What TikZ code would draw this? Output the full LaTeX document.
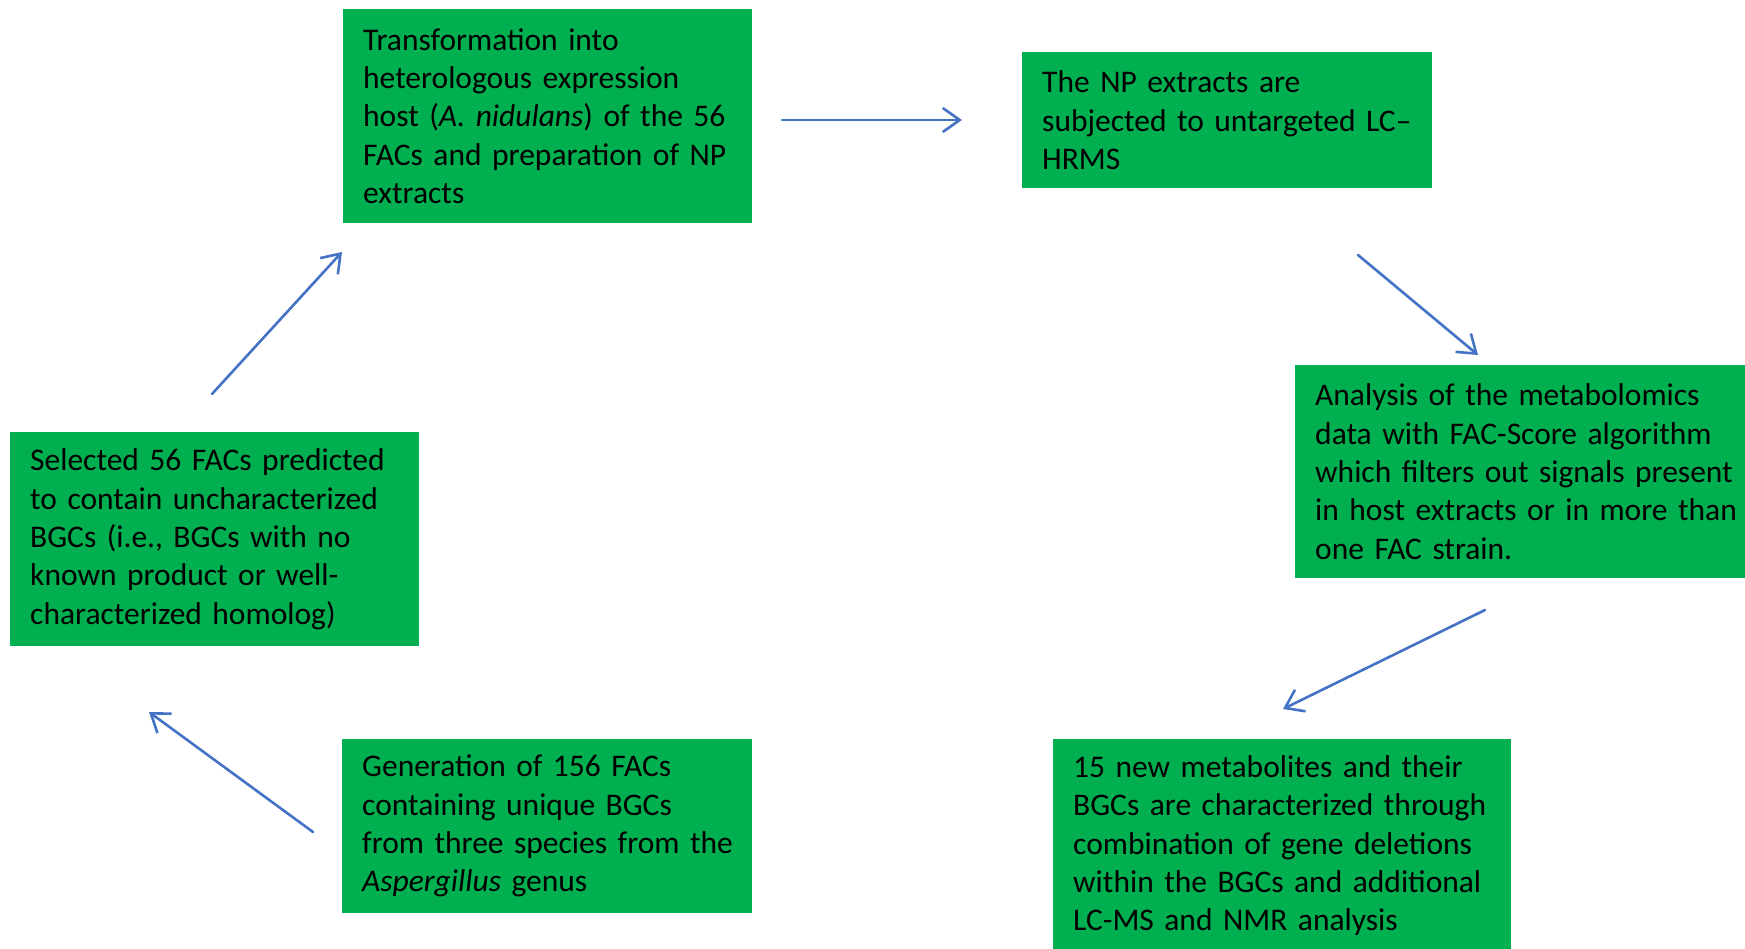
\documentclass[tikz,border=0pt]{standalone}
\usepackage{fontspec}
\setmainfont{Carlito}
\usepackage{tikz}
\usetikzlibrary{arrows.meta}
\definecolor{boxgreen}{RGB}{0,176,80}
\definecolor{arrowblue}{RGB}{68,114,196}

\begin{document}
\begin{tikzpicture}[x=1pt, y=-1pt,
    step box/.style={fill=boxgreen, anchor=north west, align=left,
        inner xsep=20pt, inner ysep=0pt, font=\fontsize{31.5}{38.4}\selectfont,
        execute at begin node={\rightskip=0pt plus 1fil minus 30pt\relax}},
    flow arrow/.style={arrowblue, line width=2.6pt, line cap=round,
        -{Straight Barb[length=17pt, width=24pt, line width=2.6pt]}},
    ]
\useasboundingbox (0,0) rectangle (1745,949);

%% draw boxes
\node[step box, minimum width=409pt, minimum height=214pt, text width=369pt] (transf) at (343,9)
    {Transformation into\\ heterologous expression\\ host (\textit{A. nidulans}) of the 56\\ FACs and preparation of NP\\ extracts};
\node[step box, minimum width=410pt, minimum height=136pt, text width=370pt] (lchrms) at (1022,52)
    {The NP extracts are\\ subjected to untargeted LC--\\ HRMS};
\node[step box, minimum width=470pt, minimum height=213pt, text width=430pt] (score) at (1295,365)
    {Analysis of the metabolomics\\ data with FAC-Score algorithm\\ which filters out signals present\\ in host extracts or in more than\\ one FAC strain.};
\node[step box, minimum width=458pt, minimum height=213pt, text width=418pt] (newmet) at (1053,739)
    {15 new metabolites and their\\ BGCs are characterized through\\ combination of gene deletions\\ within the BGCs and additional\\ LC-MS and NMR analysis};
\node[step box, minimum width=410pt, minimum height=174pt, text width=370pt] (gen) at (342,739)
    {Generation of 156 FACs\\ containing unique BGCs\\ from three species from the\\ \textit{Aspergillus} genus};
\node[step box, minimum width=409pt, minimum height=214pt, text width=369pt] (select) at (10,432)
    {Selected 56 FACs predicted\\ to contain uncharacterized\\ BGCs (i.e., BGCs with no\\ known product or well-\\ characterized homolog)};

%% arrow ends
\coordinate (a1) at (782,120);  \coordinate (b1) at (962,120);
\coordinate (a2) at (1358,255); \coordinate (b2) at (1478,355);
\coordinate (a3) at (1485,610); \coordinate (b3) at (1283,709);
\coordinate (a4) at (313,832);  \coordinate (b4) at (149,712);
\coordinate (a5) at (212,394);  \coordinate (b5) at (342,252);

%% draw arrows
\draw[flow arrow] (a1) -- (b1);
\draw[flow arrow] (a2) -- (b2);
\draw[flow arrow] (a3) -- (b3);
\draw[flow arrow] (a4) -- (b4);
\draw[flow arrow] (a5) -- (b5);

\end{tikzpicture}
\end{document}
